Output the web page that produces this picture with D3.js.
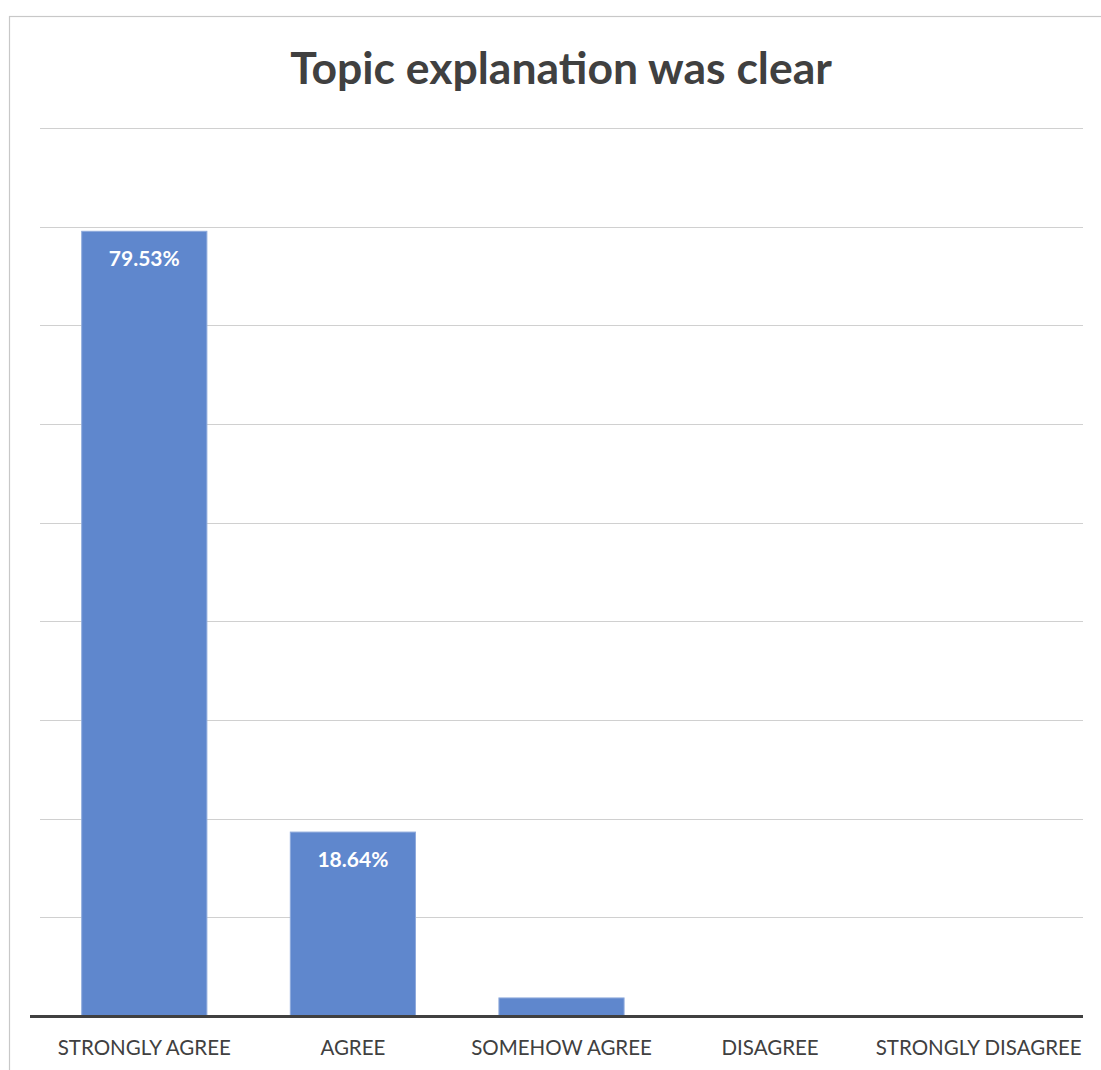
<!DOCTYPE html>
<html>
<head>
<meta charset="utf-8">
<script src="https://cdn.jsdelivr.net/npm/d3@7"></script>
<style>
  html, body { margin: 0; padding: 0; background: #ffffff; }
  svg { display: block; }
</style>
</head>
<body>
<svg id="chart" width="1101" height="1070"></svg>
<script>
// Survey responses: share of respondents per answer
const categories = ["STRONGLY AGREE", "AGREE", "SOMEHOW AGREE", "DISAGREE", "STRONGLY DISAGREE"];
const percentages = [79.53, 18.64, 1.83, 0, 0];
const valueLabels = ["79.53%", "18.64%", "", "", ""];
const gridTicks = [0, 10, 20, 30, 40, 50, 60, 70, 80, 90];
const chartTitle = "Topic explanation was clear";

const svg = d3.select("#chart");
const W = 1101, H = 1070;
const font = "Lato, 'Open Sans', sans-serif";

// outer chart frame
svg.append("rect")
  .attr("x", 9.5).attr("y", 16.5)
  .attr("width", W + 20).attr("height", H + 20)
  .attr("fill", "#ffffff")
  .attr("stroke", "#c8c8c8").attr("stroke-width", 1.2);

const plot = { left: 40, right: 1083, top: 128, bottom: 1016 };

const x = d3.scaleBand()
  .domain(categories)
  .range([plot.left, plot.right])
  .paddingInner(0.4)
  .paddingOuter(0.2);

const y = d3.scaleLinear()
  .domain([0, 90])
  .range([plot.bottom, plot.top]);

// horizontal gridlines
svg.append("g")
  .selectAll("line")
  .data(gridTicks.filter(t => t > 0))
  .join("line")
  .attr("x1", plot.left).attr("x2", plot.right)
  .attr("y1", d => Math.round(y(d)) + 0.5)
  .attr("y2", d => Math.round(y(d)) + 0.5)
  .attr("stroke", "#d0d0d0").attr("stroke-width", 1.2);

// bars
svg.append("g")
  .selectAll("rect")
  .data(categories.map((c, i) => ({ c, v: percentages[i] })).filter(d => d.v > 0))
  .join("rect")
  .attr("x", d => x(d.c))
  .attr("y", d => y(d.v))
  .attr("width", x.bandwidth())
  .attr("height", d => y(0) - y(d.v))
  .attr("fill", "#5f87cd")
  .attr("stroke", "#8eaadc").attr("stroke-width", 1);

// value labels inside bar tops
svg.append("g")
  .selectAll("text")
  .data(categories.map((c, i) => ({ c, v: percentages[i], t: valueLabels[i] })).filter(d => d.t))
  .join("text")
  .attr("x", d => x(d.c) + x.bandwidth() / 2)
  .attr("y", d => y(d.v) + 35)
  .attr("text-anchor", "middle")
  .attr("font-family", font)
  .attr("font-weight", 700)
  .attr("font-size", 21)
  .attr("fill", "#ffffff")
  .text(d => d.t);

// category axis
const xAxis = svg.append("g")
  .attr("transform", `translate(0,${plot.bottom})`)
  .call(d3.axisBottom(x).tickSize(0).tickPadding(24));
xAxis.select(".domain").remove();
xAxis.selectAll("text")
  .attr("font-family", font)
  .attr("font-size", 20.5)
  .attr("fill", "#404040");

svg.append("line")
  .attr("x1", 30).attr("x2", plot.right)
  .attr("y1", plot.bottom + 0.5).attr("y2", plot.bottom + 0.5)
  .attr("stroke", "#404040").attr("stroke-width", 3);

// title
svg.append("text")
  .attr("x", 561).attr("y", 84)
  .attr("text-anchor", "middle")
  .attr("font-family", font)
  .attr("font-weight", 700)
  .attr("font-size", 44.5)
  .attr("fill", "#404040")
  .text(chartTitle);
</script>
</body>
</html>
